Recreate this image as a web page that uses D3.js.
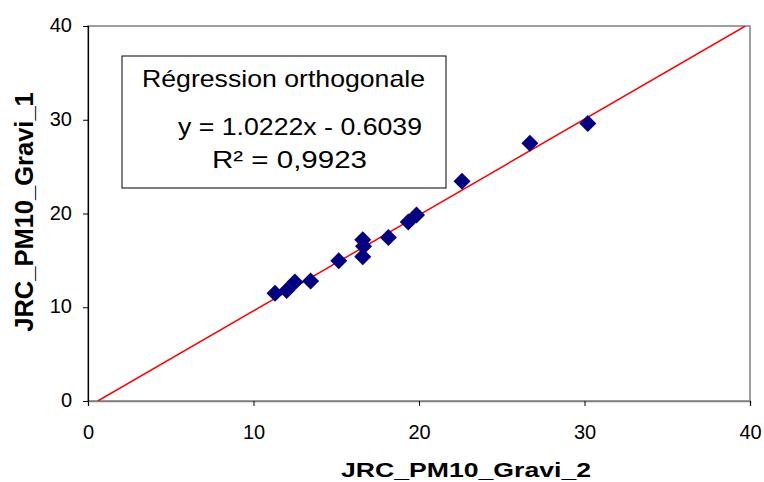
<!DOCTYPE html>
<meta charset="utf-8">
<style>
body { margin: 0; background: #fff; }
text { font-family: "Liberation Sans", Arial, sans-serif; fill: #000; }
.title { font-size: 21px; font-weight: bold; }
.ytitle { font-size: 25.5px; font-weight: bold; }
.box text { font-size: 24px; }
</style>
<body>
<svg width="764" height="482"></svg>
<script src="https://d3js.org/d3.v7.min.js"></script>
<script>

// measured values (JRC_PM10_Gravi_2 vs JRC_PM10_Gravi_1)
var gravi2 = [11.3, 12.0, 12.5, 13.45, 15.15, 16.6, 16.65, 16.6, 18.15, 19.35, 19.85, 22.6, 26.7, 30.2];
var gravi1 = [11.5, 11.8, 12.7, 12.8, 14.95, 15.4, 16.5, 17.2, 17.45, 19.1, 19.85, 23.45, 27.5, 29.6];
var xTicks = [0, 10, 20, 30, 40];
var yTicks = [0, 10, 20, 30, 40];
var slope = 1.0222, intercept = -0.6039;
var boxLines = ["Régression orthogonale", "y = 1.0222x - 0.6039", "R² = 0,9923"];

var svg = d3.select("svg");

var x = d3.scaleLinear().domain([0, 40]).range([88, 750]);
var y = d3.scaleLinear().domain([0, 40]).range([401, 26]);

svg.append("defs").append("clipPath").attr("id", "plot")
  .append("rect")
    .attr("x", x(0)).attr("y", y(40))
    .attr("width", x(40) - x(0)).attr("height", y(0) - y(40));

// plot area border
svg.append("rect")
    .attr("x", x(0)).attr("y", y(40))
    .attr("width", x(40) - x(0)).attr("height", y(0) - y(40))
    .attr("fill", "#fff")
    .attr("stroke", "#808080")
    .attr("stroke-width", 1.5);

var xAxis = svg.append("g")
    .attr("transform", "translate(0," + y(0) + ")")
    .call(d3.axisBottom(x).tickValues(xTicks).tickSize(5).tickPadding(19));
xAxis.attr("font-size", 20).attr("font-family", null);
xAxis.select(".domain").attr("stroke", "#808080").attr("stroke-width", 1.5);
xAxis.selectAll(".tick line").attr("stroke", "#000");

var yAxis = svg.append("g")
    .attr("transform", "translate(" + x(0) + ",0)")
    .call(d3.axisLeft(y).tickValues(yTicks).tickSize(5).tickPadding(11));
yAxis.attr("font-size", 20).attr("font-family", null);
yAxis.select(".domain").attr("stroke", "#000").attr("stroke-width", 1.2);
yAxis.selectAll(".tick line").attr("stroke", "#000");
yAxis.selectAll(".tick text").attr("dy", "0.28em");

// regression line
var x0 = -intercept / slope, x1 = (40 - intercept) / slope;
svg.append("line")
    .attr("clip-path", "url(#plot)")
    .attr("x1", x(x0)).attr("y1", y(slope * x0 + intercept))
    .attr("x2", x(x1)).attr("y2", y(slope * x1 + intercept))
    .attr("stroke", "#ff0000")
    .attr("stroke-width", 1.5);

// diamonds
var pts = gravi2.map(function(d, i) { return [d, gravi1[i]]; });
svg.append("g")
  .selectAll("path")
  .data(pts)
  .enter().append("path")
    .attr("transform", function(d) { return "translate(" + x(d[0]) + "," + y(d[1]) + ")"; })
    .attr("d", "M0,-8.5L8.5,0L0,8.5L-8.5,0Z")
    .attr("fill", "#000080");

// text box
var box = svg.append("g").attr("class", "box");
box.append("rect")
    .attr("x", 122).attr("y", 56)
    .attr("width", 324).attr("height", 132)
    .attr("fill", "#fff")
    .attr("stroke", "#000")
    .attr("stroke-width", 1);
box.append("text").attr("x", 142).attr("y", 87)
    .attr("textLength", 283).attr("lengthAdjust", "spacingAndGlyphs")
    .text(boxLines[0]);
box.append("text").attr("x", 178).attr("y", 135)
    .attr("textLength", 244).attr("lengthAdjust", "spacingAndGlyphs")
    .text(boxLines[1]);
box.append("text").attr("x", 212).attr("y", 168)
    .attr("textLength", 155).attr("lengthAdjust", "spacingAndGlyphs")
    .text(boxLines[2]);

// axis titles
svg.append("text").attr("class", "title")
    .attr("x", 341).attr("y", 477)
    .attr("textLength", 250).attr("lengthAdjust", "spacingAndGlyphs")
    .text("JRC_PM10_Gravi_2");
svg.append("text").attr("class", "ytitle")
    .attr("transform", "translate(33,212) rotate(-90)")
    .attr("text-anchor", "middle")
    .text("JRC_PM10_Gravi_1");

</script>
</body>
